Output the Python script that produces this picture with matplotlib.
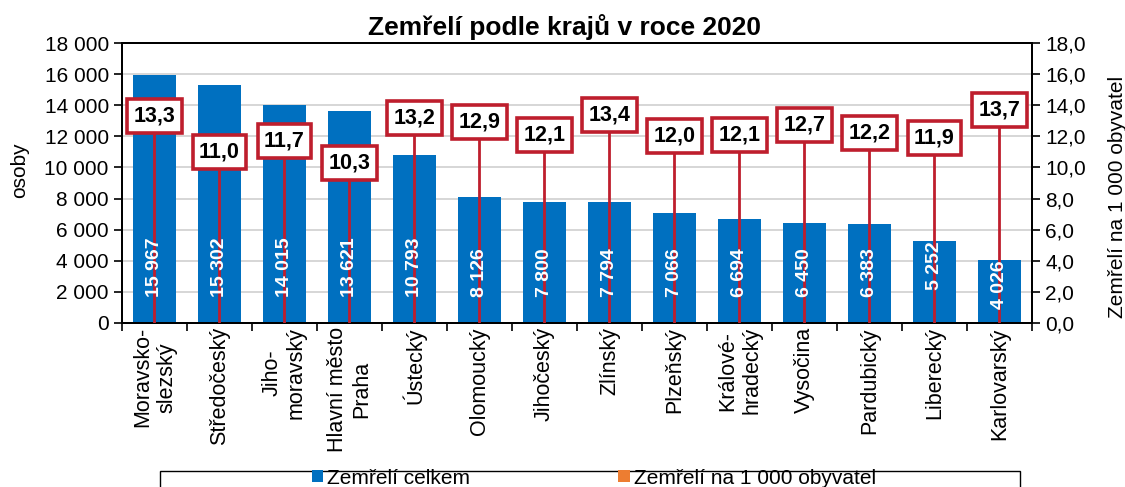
import matplotlib.pyplot as plt
from matplotlib.patches import Patch, Rectangle

plt.rcParams['font.family'] = ['Liberation Sans', 'DejaVu Sans']

# Data
regions = ['Moravsko-\nslezský', 'Středočeský', 'Jiho-\nmoravský', 'Hlavní město\nPraha',
           'Ústecký', 'Olomoucký', 'Jihočeský', 'Zlínský', 'Plzeňský',
           'Králové-\nhradecký', 'Vysočina', 'Pardubický', 'Liberecký', 'Karlovarský']
deaths = [15967, 15302, 14015, 13621, 10793, 8126, 7800, 7794, 7066, 6694, 6450, 6383, 5252, 4026]
per_1000 = [13.3, 11.0, 11.7, 10.3, 13.2, 12.9, 12.1, 13.4, 12.0, 12.1, 12.7, 12.2, 11.9, 13.7]

left_ticks = list(range(0, 18001, 2000))
right_ticks = [v * 2.0 for v in range(10)]

BLUE = '#0070C0'
RED = '#BE1E2D'
ORANGE = '#ED7D31'


def fmt_int(v):
    return f'{v:,}'.replace(',', ' ')


def fmt_dec(v):
    return f'{v:.1f}'.replace('.', ',')


fig = plt.figure(figsize=(11.25, 4.87), dpi=100)
ax = fig.add_axes([0.1084, 0.3368, 0.8089, 0.5749])
x = list(range(len(regions)))

# bars (deaths)
ax.bar(x, deaths, width=0.66, color=BLUE, zorder=2)
ax.set_xlim(-0.5, len(regions) - 0.5)
ax.set_ylim(0, 18000)
ax.set_yticks(left_ticks)
ax.set_yticklabels([fmt_int(v) for v in left_ticks], fontsize=15)
ax.yaxis.grid(True, color='#D0D0D0', linewidth=1.2, zorder=0)
ax.set_axisbelow(True)
ax.set_ylabel('osoby', fontsize=15)
ax.yaxis.set_label_coords(-0.102, 0.546)

ax.set_xticks([i + 0.5 for i in range(-1, len(regions))], minor=False)
ax.set_xticklabels([])
ax.set_xticks(x, minor=True)
ax.set_xticklabels(regions, minor=True, rotation=90, fontsize=15.5,
                   va='top', ha='center', multialignment='center')
ax.tick_params(axis='x', which='major', length=6, width=1.2, direction='out')
ax.tick_params(axis='x', which='minor', length=0, pad=3)
ax.tick_params(axis='y', length=6, width=1.2, direction='out')
for s in ax.spines.values():
    s.set_linewidth(1.4)

# secondary axis (deaths per 1000)
ax2 = ax.twinx()
ax2.set_ylim(0, 18)
ax2.set_yticks(right_ticks)
ax2.set_yticklabels([fmt_dec(v) for v in right_ticks], fontsize=15)
ax2.tick_params(axis='y', length=6, width=1.2, direction='out')
ax2.set_ylabel('Zemřelí na 1 000 obyvatel', fontsize=15)
ax2.yaxis.set_label_coords(1.0835, 0.45)
for s in ax2.spines.values():
    s.set_linewidth(1.4)

ax2.vlines(x, 0, per_1000, color=RED, linewidth=2, zorder=3)
for i, v in enumerate(per_1000):
    ax2.text(i, v, fmt_dec(v), ha='center', va='center', fontsize=15.5,
             fontweight='bold', color='black', zorder=5,
             bbox=dict(boxstyle='square,pad=0.3', facecolor='white',
                       edgecolor=RED, linewidth=2.6))

# bar value labels, drawn on top of the red lines
for i, v in enumerate(deaths):
    if v > 6000:
        ax2.text(i, 1700, fmt_int(v), rotation=90, ha='center', va='bottom',
                 color='white', fontsize=14, fontweight='bold', zorder=4,
                 transform=ax.transData)
    else:
        ax2.text(i, v, fmt_int(v), rotation=90, ha='center', va='top',
                 color='white', fontsize=14, fontweight='bold', zorder=4,
                 transform=ax.transData)

fig.text(0.502, 0.945, 'Zemřelí podle krajů v roce 2020', ha='center', va='center',
         fontsize=19, fontweight='bold')

# legend with a frame running off the bottom edge
fig.add_artist(Rectangle((160 / 1125, -0.05), (1020 - 160) / 1125, 0.05 + 16 / 487,
                         transform=fig.transFigure, facecolor='white',
                         edgecolor='black', linewidth=1.0))
handles = [Patch(facecolor=BLUE, label='Zemřelí celkem'),
           Patch(facecolor=ORANGE, label='Zemřelí na 1 000 obyvatel')]
fig.legend(handles=handles, loc='center', ncol=2,
           bbox_to_anchor=(594 / 1125, 9 / 487),
           fontsize=15, frameon=False,
           handlelength=0.55, handleheight=0.55, handletextpad=0.2,
           borderpad=0, columnspacing=7.1, borderaxespad=0)

fig.savefig('out.png', dpi=100)
